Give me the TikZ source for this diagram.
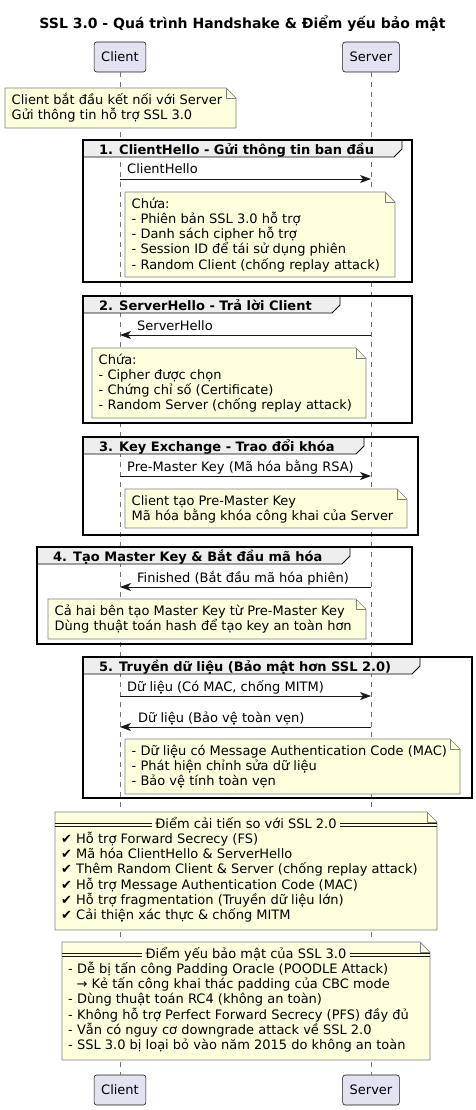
\documentclass[tikz,border=0pt]{standalone}
\usepackage{fontspec}
\setmainfont{DejaVu Sans}
\usetikzlibrary{arrows.meta}

\definecolor{partfill}{HTML}{E2E2F0}
\definecolor{linecol}{HTML}{181818}
\definecolor{notefill}{HTML}{FEFFDD}
\definecolor{tabfill}{HTML}{EEEEEE}

\newcommand{\txt}{\fontsize{13}{15.13}\selectfont}
\newcommand{\ns}{\rule{0pt}{14pt}}
% note with folded corner: x1, y1, x2, y2
\newcommand{\notebox}[4]{%
  \draw[notebg] (#1,#2) -- (#3-10,#2) -- (#3,#2+10) -- (#3,#4) -- (#1,#4) -- cycle;
  \draw[notebg,fill=none] (#3-10,#2) -- (#3-10,#2+10) -- (#3,#2+10);}
% fragment frame: x1, y1, x2, y2, right end of tab
\newcommand{\frag}[5]{%
  \draw[tab] (#1,#2) -- (#5,#2) -- (#5,#2+9) -- (#5-8,#2+17) -- (#1,#2+17) -- cycle;
  \draw[frame] (#1,#2) rectangle (#3,#4);}

\begin{document}
\begin{tikzpicture}[x=1pt,y=-1pt,
  part/.style={draw=linecol,line width=0.6pt,fill=partfill,rounded corners=2.5pt,
    minimum height=30pt,inner xsep=7pt,font=\txt},
  lifeline/.style={draw=black!55,line width=0.6pt,dash pattern=on 5pt off 5pt},
  msg/.style={draw=linecol,line width=0.8pt,-{Stealth[length=11pt,width=8pt,inset=3pt]}},
  lbl/.style={anchor=base west,inner sep=0pt,font=\txt},
  notebg/.style={draw=black!50,line width=0.7pt,fill=notefill},
  notetext/.style={anchor=north west,inner sep=0pt,align=left,font=\txt},
  notehead/.style={anchor=base,fill=notefill,inner xsep=3.5pt,inner ysep=0pt,font=\txt},
  tab/.style={draw=black,line width=0.8pt,fill=tabfill},
  frame/.style={draw=black,line width=1.5pt},
  ftitle/.style={anchor=base west,inner sep=0pt,font=\txt\bfseries}]
\useasboundingbox (0,0) rectangle (476,1110);

% Title
\node[anchor=base,inner sep=0pt,font=\fontsize{14}{16}\selectfont\bfseries] (title) at (242.5,29)
  {SSL 3.0 - Quá trình Handshake \& Điểm yếu bảo mật};

% Participants
\node[part] (cTop) at (120,57) {Client};
\node[part] (sTop) at (371,57) {Server};
\node[part] (cBot) at (120,1090) {Client};
\node[part] (sBot) at (371,1090) {Server};

% Lifelines
\draw[lifeline] (cTop) -- (cBot);
\draw[lifeline] (sTop) -- (sBot);

% Opening note
\notebox{5}{88}{236}{128}
\node[notetext] (n0) at (11.5,90.3) {\ns Client bắt đầu kết nối với Server\\Gửi thông tin hỗ trợ SSL 3.0};

% 1. ClientHello
\frag{83}{140}{412}{282}{402}
\node[ftitle] (f1) at (99,154.5) {1. ClientHello - Gửi thông tin ban đầu};
\coordinate (c1) at (cTop |- 0,179);
\coordinate (s1) at (sTop |- 0,179);
\draw[msg] (c1) -- (s1);
\node[lbl] (l1) at (127,174) {ClientHello};
\notebox{125}{192}{395}{277}
\node[notetext] (n1) at (131.5,194.3) {\ns Chứa:\\- Phiên bản SSL 3.0 hỗ trợ\\- Danh sách cipher hỗ trợ\\- Session ID để tái sử dụng phiên\\- Random Client (chống replay attack)};

% 2. ServerHello
\frag{83}{296}{412}{423}{340}
\node[ftitle] (f2) at (99,310.5) {2. ServerHello - Trả lời Client};
\coordinate (c2) at (cTop |- 0,335);
\coordinate (s2) at (sTop |- 0,335);
\draw[msg] (s2) -- (c2);
\node[lbl] (l2) at (137,330) {ServerHello};
\notebox{92}{348}{366}{418}
\node[notetext] (n2) at (98.5,350.3) {\ns Chứa:\\- Cipher được chọn\\- Chứng chỉ số (Certificate)\\- Random Server (chống replay attack)};

% 3. Key Exchange
\frag{83}{437}{418}{535}{364}
\node[ftitle] (f3) at (99,451.5) {3. Key Exchange - Trao đổi khóa};
\coordinate (c3) at (cTop |- 0,476);
\coordinate (s3) at (sTop |- 0,476);
\draw[msg] (c3) -- (s3);
\node[lbl] (l3) at (127,471) {Pre-Master Key (Mã hóa bằng RSA)};
\notebox{125}{489}{407}{528}
\node[notetext] (n3) at (131.5,491.3) {\ns Client tạo Pre-Master Key\\Mã hóa bằng khóa công khai của Server};

% 4. Master Key
\frag{37}{547}{412}{644}{350}
\node[ftitle] (f4) at (53,561.5) {4. Tạo Master Key \& Bắt đầu mã hóa};
\coordinate (c4) at (cTop |- 0,587);
\coordinate (s4) at (sTop |- 0,587);
\draw[msg] (s4) -- (c4);
\node[lbl] (l4) at (137,582) {Finished (Bắt đầu mã hóa phiên)};
\notebox{48}{599}{366}{639}
\node[notetext] (n4) at (54.5,601.3) {\ns Cả hai bên tạo Master Key từ Pre-Master Key\\Dùng thuật toán hash để tạo key an toàn hơn};

% 5. Data transfer
\frag{83}{657}{472}{798}{420}
\node[ftitle] (f5) at (99,671.5) {5. Truyền dữ liệu (Bảo mật hơn SSL 2.0)};
\coordinate (c5) at (cTop |- 0,696);
\coordinate (s5) at (sTop |- 0,696);
\draw[msg] (c5) -- (s5);
\node[lbl] (l5) at (127,691) {Dữ liệu (Có MAC, chống MITM)};
\coordinate (c6) at (cTop |- 0,727);
\coordinate (s6) at (sTop |- 0,727);
\draw[msg] (s6) -- (c6);
\node[lbl] (l6) at (138,722) {Dữ liệu (Bảo vệ toàn vẹn)};
\notebox{125}{739}{460}{794}
\node[notetext] (n5) at (131.5,741.3) {\ns - Dữ liệu có Message Authentication Code (MAC)\\- Phát hiện chỉnh sửa dữ liệu\\- Bảo vệ tính toàn vẹn};

% Improvements over SSL 2.0
\notebox{55}{812}{437}{930}
\draw[linecol,line width=0.6pt] (55,823) -- (437,823) (55,826) -- (437,826);
\node[notehead] (h6) at (246,828.3) {Điểm cải tiến so với SSL 2.0};
\node[notetext] (n6) at (61,829.4) {\ns ✔ Hỗ trợ Forward Secrecy (FS)\\✔ Mã hóa ClientHello \& ServerHello\\✔ Thêm Random Client \& Server (chống replay attack)\\✔ Hỗ trợ Message Authentication Code (MAC)\\✔ Hỗ trợ fragmentation (Truyền dữ liệu lớn)\\✔ Cải thiện xác thực \& chống MITM};

% Weaknesses of SSL 3.0
\notebox{62}{942}{430}{1060}
\draw[linecol,line width=0.6pt] (62,953) -- (430,953) (62,956) -- (430,956);
\node[notehead] (h7) at (246,958.3) {Điểm yếu bảo mật của SSL 3.0};
\node[notetext] (n7) at (68,959.4) {\ns - Dễ bị tấn công Padding Oracle (POODLE Attack)\\\hspace*{8.5pt}→ Kẻ tấn công khai thác padding của CBC mode\\- Dùng thuật toán RC4 (không an toàn)\\- Không hỗ trợ Perfect Forward Secrecy (PFS) đầy đủ\\- Vẫn có nguy cơ downgrade attack về SSL 2.0\\- SSL 3.0 bị loại bỏ vào năm 2015 do không an toàn};
\end{tikzpicture}
\end{document}
